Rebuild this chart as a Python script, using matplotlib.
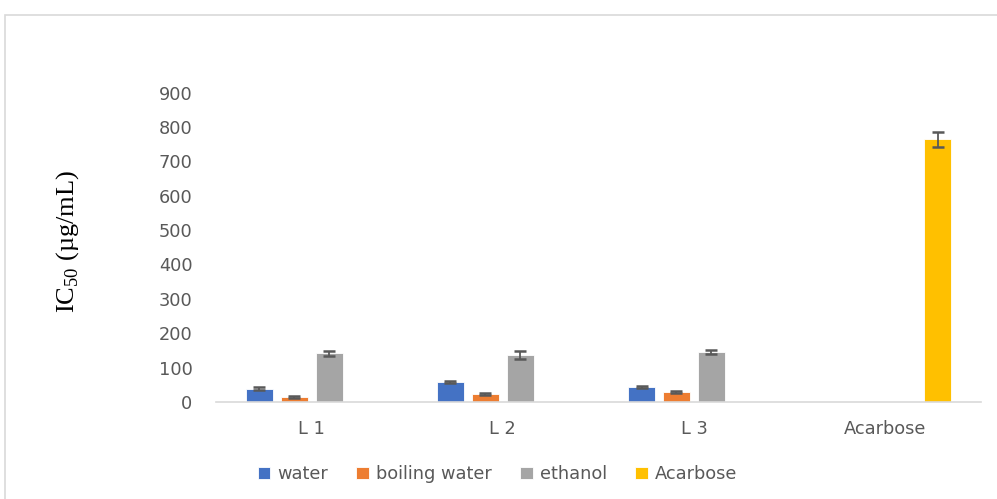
import numpy as np
import matplotlib
matplotlib.use("Agg")
import matplotlib.pyplot as plt
from matplotlib.patches import Rectangle

plt.rcParams["font.family"] = ["DejaVu Sans"]
plt.rcParams["mathtext.fontset"] = "custom"
plt.rcParams["mathtext.rm"] = "Liberation Serif"

categories = ["L 1", "L 2", "L 3", "Acarbose"]
series = ["water", "boiling water", "ethanol", "Acarbose"]
colors = ["#4472C4", "#ED7D31", "#A5A5A5", "#FFC000"]

# IC50 values per series (nan = no bar in that category)
water = [39, 58, 43, np.nan]
boiling_water = [14, 23, 28, np.nan]
ethanol = [141.5, 136, 145, np.nan]
acarbose = [np.nan, np.nan, np.nan, 764]

water_err = [4, 3, 3, 0]
boiling_water_err = [3, 3, 3, 0]
ethanol_err = [8, 11, 5, 0]
acarbose_err = [0, 0, 0, 22]

values = [water, boiling_water, ethanol, acarbose]
errors = [water_err, boiling_water_err, ethanol_err, acarbose_err]

fig = plt.figure(figsize=(9.97, 4.99), dpi=100)
ax = fig.add_axes([0.2167, 0.1944, 0.767, 0.620])

x = np.arange(len(categories))
slot = 0.183
width = 0.141
for i, (vals, errs) in enumerate(zip(values, errors)):
    pos = x + (i - 1.5) * slot
    vals = np.array(vals, dtype=float)
    mask = ~np.isnan(vals)
    ax.bar(pos[mask], vals[mask], width, color=colors[i], label=series[i],
           edgecolor="white", linewidth=0.6, zorder=2)
    ax.errorbar(pos[mask], vals[mask], yerr=np.array(errs)[mask], fmt="none",
                ecolor="#595959", elinewidth=1.3, capsize=4.5, capthick=1.8, zorder=3)

ax.set_xlim(-0.5, len(categories) - 0.5)
ax.set_ylim(0, 900)
ax.set_yticks(range(0, 901, 100))
ax.set_xticks(x)
ax.set_xticklabels(categories)

for side in ["top", "right", "left"]:
    ax.spines[side].set_visible(False)
ax.spines["bottom"].set_color("#D9D9D9")
ax.spines["bottom"].set_linewidth(1.2)
ax.tick_params(axis="y", length=0, pad=17, labelsize=12.8, labelcolor="#595959")
ax.tick_params(axis="x", length=0, pad=13, labelsize=12.8, labelcolor="#595959")

fig.text(0.068, 0.517, r"IC$_{\mathrm{50}}$ (µg/mL)", rotation=90, ha="center", va="center",
         fontsize=19, family="Liberation Serif", color="black")

leg = fig.legend(loc="center", bbox_to_anchor=(0.499, 0.05), ncol=4, frameon=False,
                 fontsize=12.8, handlelength=0.7, handleheight=0.7, handletextpad=0.4,
                 columnspacing=1.6)
for t in leg.get_texts():
    t.set_color("#595959")

# chart area border
fig.patches.append(Rectangle((5 / 997, -0.2), 1.2, 1.2 - 15 / 499,
                             transform=fig.transFigure, fill=False,
                             edgecolor="#D9D9D9", linewidth=1.2))

fig.savefig("out.png", dpi=100)
